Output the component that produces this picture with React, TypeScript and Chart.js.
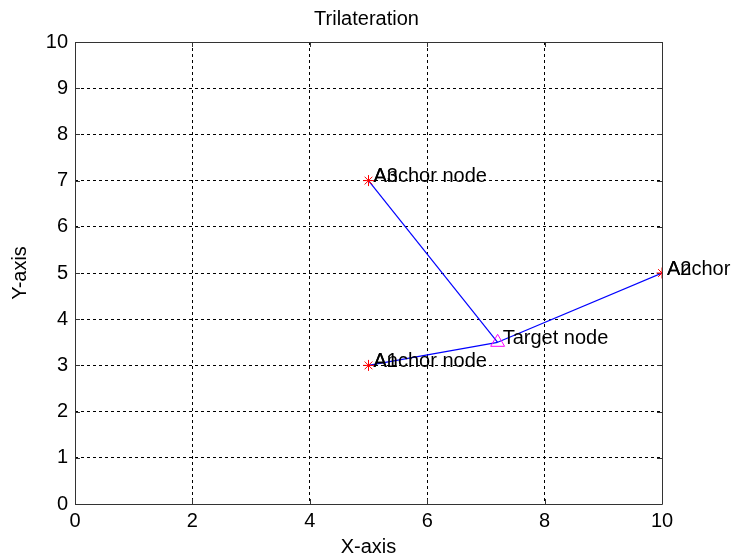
import React, { useEffect, useRef } from 'react';
import { Chart, registerables } from 'chart.js';

Chart.register(...registerables);

// ---- data ----
const anchorNames = ['A1', 'A2', 'A3'];
const anchorX = [5, 10, 5];
const anchorY = [3, 5, 7];
const targetX = [7.2];
const targetY = [3.5];
const anchorText = 'Anchor node';
const targetText = 'Target node';
const xTickValues = [0, 2, 4, 6, 8, 10];
const yTickValues = [0, 1, 2, 3, 4, 5, 6, 7, 8, 9, 10];
const chartTitle = 'Trilateration';
const xTitle = 'X-axis';
const yTitle = 'Y-axis';

const FONT = '"Liberation Sans", Arial, Helvetica, sans-serif';
const FS = 20;

const boxPlugin = {
  id: 'matlabBox',
  beforeDatasetsDraw(chart: any) {
    const { ctx, chartArea, scales } = chart;
    const { left, right, top, bottom } = chartArea;
    ctx.save();
    ctx.strokeStyle = '#333';
    ctx.lineWidth = 1;
    ctx.setLineDash([]);
    ctx.beginPath();
    const tl = 5;
    xTickValues.forEach((v) => {
      const px = Math.round(scales.x.getPixelForValue(v)) + 0.5;
      ctx.moveTo(px, bottom);
      ctx.lineTo(px, bottom - tl);
      ctx.moveTo(px, top);
      ctx.lineTo(px, top + tl);
    });
    yTickValues.forEach((v) => {
      const py = Math.round(scales.y.getPixelForValue(v)) + 0.5;
      ctx.moveTo(left, py);
      ctx.lineTo(left + tl, py);
      ctx.moveTo(right, py);
      ctx.lineTo(right - tl, py);
    });
    ctx.stroke();
    ctx.beginPath();
    ctx.rect(Math.round(left) + 0.5, Math.round(top) + 0.5, Math.round(right - left), Math.round(bottom - top));
    ctx.stroke();
    ctx.restore();
  },
};

const labelPlugin = {
  id: 'pointLabels',
  afterDatasetsDraw(chart: any) {
    const { ctx, scales } = chart;
    ctx.save();
    ctx.font = `${FS}px ${FONT}`;
    ctx.fillStyle = '#000';
    ctx.textAlign = 'left';
    ctx.textBaseline = 'middle';
    const dx = 5;
    const dy = -4;
    anchorX.forEach((x, i) => {
      const px = scales.x.getPixelForValue(x) + dx;
      const py = scales.y.getPixelForValue(anchorY[i]) + dy;
      ctx.fillText(anchorText, px, py);
      ctx.fillText(anchorNames[i], px, py);
    });
    targetX.forEach((x, i) => {
      const px = scales.x.getPixelForValue(x) + dx;
      const py = scales.y.getPixelForValue(targetY[i]) + dy;
      ctx.fillText(targetText, px, py);
    });
    ctx.restore();
  },
};

export default function App() {
  const ref = useRef<HTMLCanvasElement | null>(null);

  useEffect(() => {
    if (!ref.current) return;
    const lineSets = anchorX.map((x, i) => ({
      label: 'link ' + anchorNames[i],
      data: [
        { x, y: anchorY[i] },
        { x: targetX[0], y: targetY[0] },
      ],
      showLine: true,
      borderColor: '#0000ff',
      borderWidth: 1.2,
      pointRadius: 0,
      order: 2,
    }));
    const chart = new Chart(ref.current, {
      type: 'scatter',
      data: {
        datasets: [
          ...lineSets,
          {
            label: 'anchors',
            data: anchorX.map((x, i) => ({ x, y: anchorY[i] })),
            showLine: false,
            pointStyle: 'star',
            pointRadius: 5.5,
            borderColor: '#ff0000',
            backgroundColor: '#ff0000',
            pointBorderWidth: 1,
            order: 0,
          },
          {
            label: 'target',
            data: targetX.map((x, i) => ({ x, y: targetY[i] })),
            showLine: false,
            pointStyle: 'triangle',
            pointRadius: 8,
            borderColor: '#ff00ff',
            backgroundColor: 'rgba(0,0,0,0)',
            pointBorderWidth: 1,
            order: 0,
          },
        ] as any,
      },
      options: {
        animation: false,
        responsive: false,
        devicePixelRatio: 1,
        layout: { padding: 0 },
        plugins: {
          legend: { display: false },
          tooltip: { enabled: false },
          title: {
            display: true,
            text: chartTitle,
            color: '#000',
            font: { family: FONT, size: FS, weight: 'normal', lineHeight: 1.2 },
            padding: { top: 7, bottom: 11 },
          },
        },
        scales: {
          x: {
            type: 'linear',
            min: 0,
            max: 10,
            afterFit: (s: any) => { s.height = 55; },
            afterBuildTicks: (s: any) => { s.ticks = xTickValues.map((v) => ({ value: v })); },
            ticks: {
              color: '#000',
              padding: 5,
              font: { family: FONT, size: FS, lineHeight: 1.2 },
              maxRotation: 0,
            },
            grid: { color: '#000', lineWidth: 1, drawTicks: false },
            border: { display: false, dash: [3, 3] },
            title: {
              display: true,
              text: xTitle,
              color: '#000',
              font: { family: FONT, size: FS, lineHeight: 1.15 },
              padding: { top: 0, bottom: 0 },
            },
          },
          y: {
            type: 'linear',
            min: 0,
            max: 10,
            afterFit: (s: any) => { s.width = 75; },
            afterBuildTicks: (s: any) => { s.ticks = yTickValues.map((v) => ({ value: v })); },
            ticks: {
              color: '#000',
              padding: 7,
              font: { family: FONT, size: FS, lineHeight: 1.2 },
            },
            grid: { color: '#000', lineWidth: 1, drawTicks: false },
            border: { display: false, dash: [3, 3] },
            title: {
              display: true,
              text: yTitle,
              color: '#000',
              font: { family: FONT, size: FS, lineHeight: 1.2 },
              padding: { top: 8, bottom: 0 },
            },
          },
          yRightSpace: {
            type: 'linear',
            position: 'right',
            min: 0,
            max: 10,
            display: true,
            afterFit: (s: any) => { s.width = 71; },
            ticks: { display: false },
            grid: { display: false, drawOnChartArea: false, drawTicks: false },
            border: { display: false },
          },
        },
      } as any,
      plugins: [boxPlugin, labelPlugin],
    });
    return () => chart.destroy();
  }, []);

  return (
    <div style={{ position: 'fixed', left: 0, top: 0, width: 733, height: 559, background: '#fff' }}>
      <canvas ref={ref} width={733} height={559} />
    </div>
  );
}
